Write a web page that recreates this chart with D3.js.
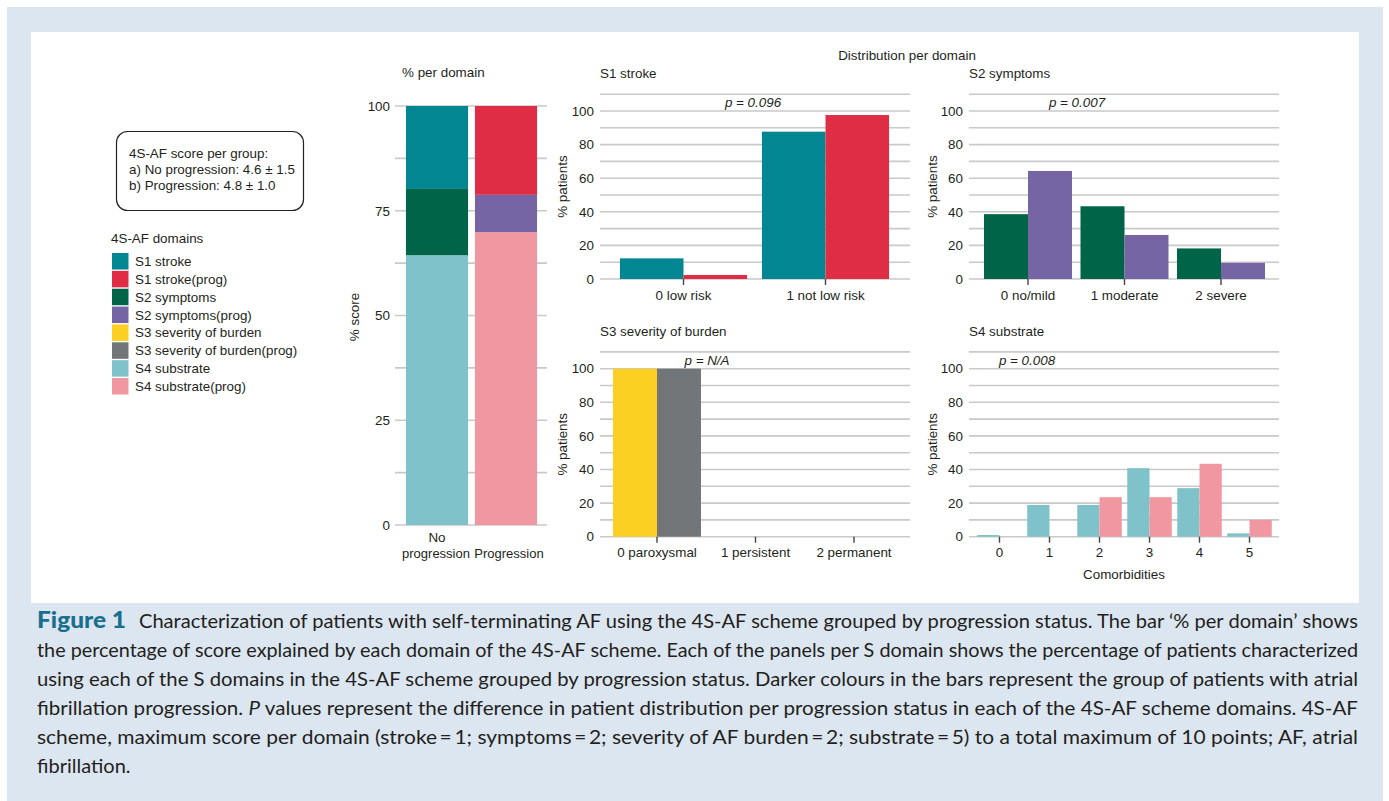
<!DOCTYPE html>
<html>
<head>
<meta charset="utf-8">
<script src="https://cdn.jsdelivr.net/npm/d3@7"></script>
<style>
  html, body { margin: 0; padding: 0; background: #ffffff; }
  svg { display: block; }
</style>
</head>
<body>
<svg id="chart" width="1389" height="801"></svg>
<script>
// ---------------- DATA ----------------
const groups = ["No progression", "Progression"];
const domains = ["S1 stroke", "S2 symptoms", "S3 severity of burden", "S4 substrate"];
const scoreNoProg = [19.8, 15.8, 0, 64.4];
const scoreProg = [21.2, 8.9, 0, 69.9];

const legendLabels = ["S1 stroke", "S1 stroke(prog)", "S2 symptoms", "S2 symptoms(prog)",
  "S3 severity of burden", "S3 severity of burden(prog)", "S4 substrate", "S4 substrate(prog)"];
const colorsNoProg = ["#028692", "#006548", "#fcd023", "#80c2c9"];
const colorsProg = ["#e02d46", "#7665a4", "#737678", "#f097a2"];

const s1Cats = ["0 low risk", "1 not low risk"];
const s1NoProg = [12.3, 87.7];
const s1Prog = [2.4, 97.6];

const s2Cats = ["0 no/mild", "1 moderate", "2 severe"];
const s2NoProg = [38.6, 43.3, 18.2];
const s2Prog = [64.3, 26.2, 9.6];

const s3Cats = ["0 paroxysmal", "1 persistent", "2 permanent"];
const s3NoProg = [100, 0, 0];
const s3Prog = [100, 0, 0];

const s4Cats = ["0", "1", "2", "3", "4", "5"];
const s4NoProg = [1.0, 18.9, 18.9, 40.8, 28.9, 2.0];
const s4Prog = [0, 0, 23.5, 23.5, 43.4, 10.0];

const pValues = ["p = 0.096", "p = 0.007", "p = N/A", "p = 0.008"];
const scoreTicks = [0, 25, 50, 75, 100];
const patientTicks = [0, 20, 40, 60, 80, 100];

const boxLines = ["4S-AF score per group:", "a) No progression: 4.6 \u00b1 1.5", "b) Progression: 4.8 \u00b1 1.0"];

// ---------------- SETUP ----------------
const svg = d3.select("#chart");
const FONT = "'Liberation Sans', Arial, sans-serif";
const FS = 13.4;
const TXT = "#231f20";
const GRID = "#c9c9c9";

svg.append("rect").attr("x", 0).attr("y", 0).attr("width", 1389).attr("height", 801).attr("fill", "#ffffff");
svg.append("rect").attr("x", 7).attr("y", 7).attr("width", 1376).attr("height", 794).attr("fill", "#dce6f0");
svg.append("rect").attr("x", 31).attr("y", 32).attr("width", 1328).attr("height", 571).attr("fill", "#ffffff");

function txt(g, x, y, s, opts = {}) {
  return g.append("text").attr("x", x).attr("y", y)
    .attr("font-family", FONT).attr("font-size", opts.size || FS)
    .attr("fill", opts.fill || TXT)
    .attr("text-anchor", opts.anchor || "start")
    .attr("font-style", opts.italic ? "italic" : "normal")
    .text(s);
}

// ---------------- SCORE BOX & LEGEND ----------------
svg.append("rect").attr("x", 116.5).attr("y", 131.5).attr("width", 187).attr("height", 79)
  .attr("rx", 11).attr("fill", "#fff").attr("stroke", "#222").attr("stroke-width", 1.2);
boxLines.forEach((l, i) => txt(svg, 129, 158 + i * 16, l));

txt(svg, 111, 243, "4S-AF domains");
const legendColors = [];
domains.forEach((d, i) => { legendColors.push(colorsNoProg[i]); legendColors.push(colorsProg[i]); });
legendLabels.forEach((l, i) => {
  const y = 253 + i * 17.86;
  svg.append("rect").attr("x", 112).attr("y", y).attr("width", 16.5).attr("height", 16.5).attr("fill", legendColors[i]);
  txt(svg, 135, y + 13, l);
});

// ---------------- STACKED % PER DOMAIN ----------------
{
  const g = svg.append("g");
  const y = d3.scaleLinear().domain([0, 100]).range([525, 106]);
  const x = d3.scaleBand().domain(groups).range([402.5, 540.5]).paddingInner(0.1).paddingOuter(0.05);
  const gridVals = d3.range(0, 100.01, 12.5);
  g.selectAll("line.grid").data(gridVals).join("line")
    .attr("x1", 395).attr("x2", 547).attr("y1", d => y(d)).attr("y2", d => y(d))
    .attr("stroke", GRID).attr("stroke-width", 1.6);
  const ax = g.append("g").attr("transform", "translate(395,0)")
    .call(d3.axisLeft(y).tickValues(scoreTicks).tickSize(0).tickPadding(5));
  ax.select(".domain").remove();
  ax.selectAll("text").attr("font-family", FONT).attr("font-size", FS).attr("fill", TXT);

  const series = [scoreNoProg, scoreProg];
  const cols = [colorsNoProg, colorsProg];
  const order = [3, 2, 1, 0]; // bottom to top: substrate, burden, symptoms, stroke
  series.forEach((vals, gi) => {
    let acc = 0;
    order.forEach(di => {
      const v = vals[di];
      g.append("rect").attr("x", x(groups[gi])).attr("width", x.bandwidth())
        .attr("y", y(acc + v)).attr("height", y(acc) - y(acc + v)).attr("fill", cols[gi][di]);
      acc += v;
    });
  });
  txt(g, 402, 77, "% per domain");
  g.append("text").attr("transform", "translate(359,317) rotate(-90)")
    .attr("font-family", FONT).attr("font-size", FS).attr("fill", TXT).attr("text-anchor", "middle").text("% score");
  const cx0 = x(groups[0]) + x.bandwidth() / 2, cx1 = x(groups[1]) + x.bandwidth() / 2;
  txt(g, cx0, 542, "No", { anchor: "middle" });
  txt(g, cx0 - 1, 558, "progression", { anchor: "middle", size: 13 });
  txt(g, cx1 + 3, 558, "Progression", { anchor: "middle", size: 13 });
}

txt(svg, 907, 60, "Distribution per domain", { anchor: "middle" });

// ---------------- DOMAIN PANELS ----------------
const panels = [
  { title: domains[0], cats: s1Cats, a: s1NoProg, b: s1Prog, ci: 0, grid: [600, 910], xr: [612.5, 896.5], pi: 0.105, y0: 279, titleY: 78, p: pValues[0], px: 753, labX: 567 },
  { title: domains[1], cats: s2Cats, a: s2NoProg, b: s2Prog, ci: 1, grid: [969, 1279], xr: [979.75, 1269.25], pi: 0.088, y0: 279, titleY: 78, p: pValues[1], px: 1077, labX: 937 },
  { title: domains[2], cats: s3Cats, a: s3NoProg, b: s3Prog, ci: 2, grid: [600, 910], xr: [607.75, 903.25], pi: 0.107, y0: 536.7, titleY: 336, p: pValues[2], px: 707, labX: 567 },
  { title: domains[3], cats: s4Cats, a: s4NoProg, b: s4Prog, ci: 3, grid: [969, 1279], xr: [974.5, 1274.5], pi: 0.11, y0: 536.7, titleY: 336, p: pValues[3], px: 1027, labX: 937, xlabel: "Comorbidities" }
];

panels.forEach(P => {
  const g = svg.append("g");
  const y = d3.scaleLinear().domain([0, 110]).range([P.y0, P.y0 - 110 * 1.68]);
  const x = d3.scaleBand().domain(P.cats).range(P.xr).paddingInner(P.pi).paddingOuter(P.pi / 2);
  const xs = d3.scaleBand().domain(groups).range([0, x.bandwidth()]);
  const gridVals = d3.range(0, 110.01, 10);
  g.selectAll("line.grid").data(gridVals).join("line")
    .attr("x1", P.grid[0]).attr("x2", P.grid[1]).attr("y1", d => y(d)).attr("y2", d => y(d))
    .attr("stroke", GRID).attr("stroke-width", 1.6);
  const ax = g.append("g").attr("transform", `translate(${P.grid[0]},0)`)
    .call(d3.axisLeft(y).tickValues(patientTicks).tickSize(0).tickPadding(6));
  ax.select(".domain").remove();
  ax.selectAll("text").attr("font-family", FONT).attr("font-size", FS).attr("fill", TXT);

  P.cats.forEach((c, i) => {
    [P.a[i], P.b[i]].forEach((v, gi) => {
      if (v <= 0) return;
      g.append("rect").attr("x", x(c) + xs(groups[gi])).attr("width", xs.bandwidth())
        .attr("y", y(v)).attr("height", y(0) - y(v))
        .attr("fill", gi === 0 ? colorsNoProg[P.ci] : colorsProg[P.ci]);
    });
  });
  const xa = g.append("g").attr("transform", `translate(0,${P.y0})`)
    .call(d3.axisBottom(x).tickSize(6).tickPadding(5));
  xa.select(".domain").remove();
  xa.selectAll("line").attr("stroke", "#444").attr("stroke-width", 1.4);
  xa.selectAll("text").attr("font-family", FONT).attr("font-size", FS).attr("fill", TXT);

  txt(g, P.grid[0], P.titleY, P.title);
  txt(g, P.px, P.y0 - 172, P.p, { anchor: "middle", italic: true });
  g.append("text").attr("transform", `translate(${P.labX},${y(55)}) rotate(-90)`)
    .attr("font-family", FONT).attr("font-size", FS).attr("fill", TXT).attr("text-anchor", "middle").text("% patients");
  if (P.xlabel) txt(g, (P.grid[0] + P.grid[1]) / 2, P.y0 + 42, P.xlabel, { anchor: "middle" });
});

// ---------------- CAPTION ----------------
const CAP = "Lato, 'Open Sans', sans-serif";
const capLines = [
  "Characterization of patients with self-terminating AF using the 4S-AF scheme grouped by progression status. The bar \u2018% per domain\u2019 shows",
  "the percentage of score explained by each domain of the 4S-AF scheme. Each of the panels per S domain shows the percentage of patients characterized",
  "using each of the S domains in the 4S-AF scheme grouped by progression status. Darker colours in the bars represent the group of patients with atrial",
  ["fibrillation progression. ", "P", " values represent the difference in patient distribution per progression status in each of the 4S-AF scheme domains. 4S-AF"],
  "scheme, maximum score per domain (stroke\u2009=\u20091; symptoms\u2009=\u20092; severity of AF burden\u2009=\u20092; substrate\u2009=\u20095) to a total maximum of 10 points; AF, atrial",
  "fibrillation."
];
const capY0 = 628, capDy = 29;
svg.append("text").attr("x", 37).attr("y", capY0).attr("font-family", CAP).attr("font-weight", 900)
  .attr("font-size", 22).attr("fill", "#1a6e8e").attr("textLength", 89).attr("lengthAdjust", "spacingAndGlyphs").text("Figure 1");
capLines.forEach((l, i) => {
  const x0 = i === 0 ? 139 : 37;
  const t = svg.append("text").attr("x", x0).attr("y", capY0 + i * capDy)
    .attr("font-family", CAP).attr("font-size", 20).attr("fill", "#231f20");
  if (Array.isArray(l)) {
    l.forEach((s, k) => t.append("tspan").attr("font-style", k === 1 ? "italic" : "normal").text(s));
  } else t.text(l);
  if (i < capLines.length - 1) t.attr("textLength", 1358 - x0).attr("lengthAdjust", "spacingAndGlyphs");
});
</script>
</body>
</html>
